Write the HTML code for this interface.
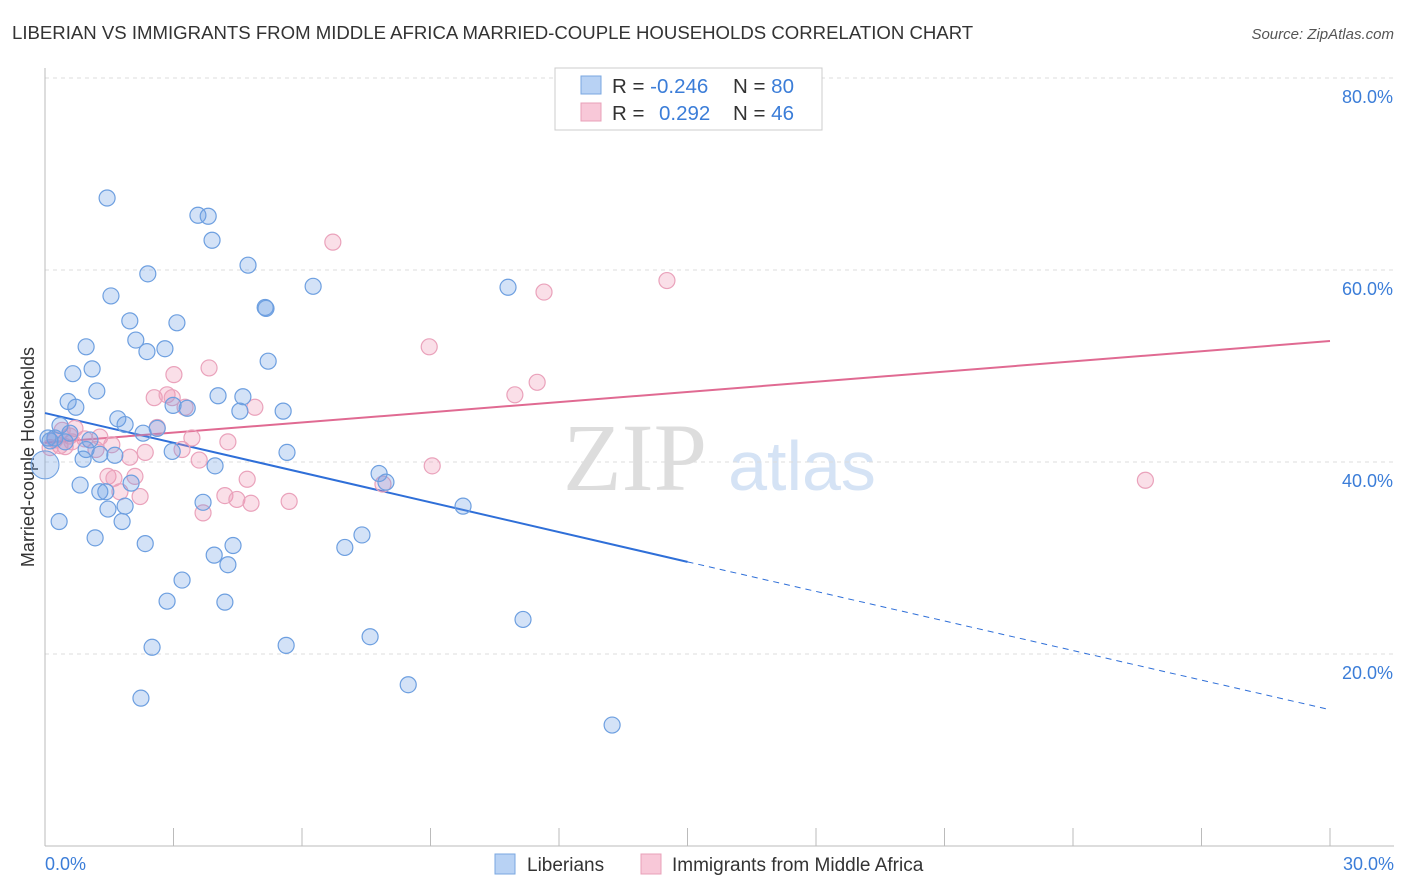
<!DOCTYPE html>
<html><head><meta charset="utf-8">
<style>
body{margin:0;background:#fff;font-family:"Liberation Sans",sans-serif;}
svg{display:block}
</style></head>
<body>
<svg id="chart" width="1406" height="892">
<text x="12" y="39" font-size="18.6" fill="#333">LIBERIAN VS IMMIGRANTS FROM MIDDLE AFRICA MARRIED-COUPLE HOUSEHOLDS CORRELATION CHART</text>
<text x="1394" y="39" font-size="15" fill="#555" font-style="italic" text-anchor="end">Source: ZipAtlas.com</text>
<text transform="translate(34,457) rotate(-90)" font-size="18" fill="#333" text-anchor="middle">Married-couple Households</text>
<g>
<text x="635" y="490" font-size="96" fill="#ddd" font-family="Liberation Serif,serif" text-anchor="middle">ZIP</text>
<text x="802" y="490" font-size="70" fill="#d5e3f5" text-anchor="middle">atlas</text>
</g>
<g id="grid"></g>
<g id="trends"></g>
<g id="points"></g>
<g>
<rect x="555" y="68" width="267" height="62" fill="#fff" stroke="#ccc"/>
<rect x="581" y="76" width="20" height="18" fill="#b8d2f4" stroke="#7aa7e0"/>
<rect x="581" y="103" width="20" height="18" fill="#f8c8d8" stroke="#e8a0b8"/>
<text x="612" y="93" font-size="20.5" fill="#333">R = <tspan fill="#3b7dd8">-0.246</tspan><tspan x="733">N = </tspan><tspan fill="#3b7dd8">80</tspan></text>
<text x="612" y="120" font-size="20.5" fill="#333">R = <tspan x="659" fill="#3b7dd8">0.292</tspan><tspan x="733">N = </tspan><tspan fill="#3b7dd8">46</tspan></text>
</g>
<g>
<rect x="495" y="854" width="20" height="20" fill="#b8d2f4" stroke="#7aa7e0"/>
<text x="527" y="871" font-size="19" fill="#333">Liberians</text>
<rect x="641" y="854" width="20" height="20" fill="#f8c8d8" stroke="#e8a0b8"/>
<text x="672" y="871" font-size="19" fill="#333">Immigrants from Middle Africa</text>
</g>
</svg>
<script>
const yTicks=[20,40,60,80];
const yTickLabels=["20.0%","40.0%","60.0%","80.0%"];
const xTickLabels=["0.0%","30.0%"];
const blueX=[1.45,3.57,3.81,3.90,4.74,2.40,6.26,10.81,5.14,5.16,1.54,1.98,3.08,2.12,0.96,2.38,2.80,5.21,0.65,1.10,1.21,4.04,4.62,0.54,0.72,2.99,3.32,4.55,5.56,1.70,1.87,0.35,0.58,0.23,1.05,0.12,0.47,2.29,2.62,0.96,1.28,1.63,2.97,5.65,0.89,3.97,7.80,7.96,0.82,2.01,1.28,1.42,3.69,9.76,1.47,1.87,0.33,1.80,7.40,1.17,4.39,2.34,7.00,3.95,4.27,3.20,2.85,4.20,2.50,5.63,7.59,11.16,8.48,2.24,13.24,0.07];
const blueY=[67.5,65.7,65.6,63.1,60.5,59.6,58.3,58.2,56.1,56.0,57.3,54.7,54.5,52.7,52.0,51.5,51.8,50.5,49.2,49.7,47.4,46.9,46.8,46.3,45.7,45.9,45.6,45.3,45.3,44.5,43.9,43.8,43.0,42.5,42.3,42.2,42.1,43.0,43.5,41.3,40.8,40.7,41.1,41.0,40.3,39.6,38.8,37.9,37.6,37.8,36.9,36.9,35.8,35.4,35.1,35.4,33.8,33.8,32.4,32.1,31.3,31.5,31.1,30.3,29.3,27.7,25.5,25.4,20.7,20.9,21.8,23.6,16.8,15.4,12.6,42.5];
const bigBlue=[0,39.7];
const pinkX=[6.72,14.52,11.65,8.97,3.83,3.01,11.49,10.97,2.55,2.85,2.97,3.27,4.90,2.62,3.43,4.27,0.58,1.28,0.47,0.93,0.23,0.35,2.34,3.20,1.98,3.60,9.04,1.47,1.61,2.10,4.72,7.89,1.75,2.22,4.20,4.48,4.81,5.70,3.69,25.69,0.70,1.19,0.12,0.63,1.56,0.40];
const pinkY=[62.9,58.9,57.7,52.0,49.8,49.1,48.3,47.0,46.7,47.0,46.7,45.7,45.7,43.6,42.5,42.1,42.7,42.6,41.6,42.4,42.3,41.7,41.0,41.3,40.5,40.2,39.6,38.5,38.3,38.5,38.2,37.7,36.9,36.4,36.5,36.1,35.7,35.9,34.7,38.1,43.5,41.3,41.5,42.1,41.8,43.3];
const blueTrend=[45.1,29.6,14.2];
const pinkTrend=[42.0,52.6];
const NS="http://www.w3.org/2000/svg";
const sx=v=>45+v/30*1285;
const sy=v=>846-v*9.6;
function mk(tag,attrs,parent){const e=document.createElementNS(NS,tag);for(const k in attrs)e.setAttribute(k,attrs[k]);parent.appendChild(e);return e;}
const grid=document.getElementById('grid');
yTicks.forEach((t,i)=>{
  const l=mk('line',{x1:45,x2:1394,y1:sy(t),y2:sy(t),stroke:'#ddd','stroke-dasharray':'4,4'},grid);
  
  
  const tx=mk('text',{x:1393,y:sy(t)+25,'font-size':18,fill:'#3b7dd8','text-anchor':'end'},grid);
  tx.textContent=yTickLabels[i];
  
  
});
const axisY=mk('line',{x1:45,x2:45,y1:68,y2:846,stroke:'#bbb'},grid);


const axisX=mk('line',{x1:45,x2:1394,y1:846,y2:846,stroke:'#bbb'},grid);


for(let i=0;i<=10;i++){const x=sx(i*3);const t=mk('line',{x1:x,x2:x,y1:828,y2:846,stroke:'#bbb'},grid);
  
  }
const xl0=mk('text',{x:45,y:870,'font-size':18,fill:'#3b7dd8'},grid);xl0.textContent=xTickLabels[0];


const xl1=mk('text',{x:1394,y:870,'font-size':18,fill:'#3b7dd8','text-anchor':'end'},grid);xl1.textContent=xTickLabels[1];


const pts=document.getElementById('points');
pinkX.forEach((x,i)=>{const c=mk('circle',{cx:sx(x),cy:sy(pinkY[i]),r:8,fill:'rgba(240,150,180,0.3)',stroke:'#eaa2bb','stroke-width':1.2},pts);
  
  });
blueX.forEach((x,i)=>{const c=mk('circle',{cx:sx(x),cy:sy(blueY[i]),r:8,fill:'rgba(110,160,230,0.3)',stroke:'#6d9fe0','stroke-width':1.2},pts);
  
  });
const bb=mk('circle',{cx:sx(bigBlue[0]),cy:sy(bigBlue[1]),r:14,fill:'rgba(110,160,230,0.3)',stroke:'#6d9fe0'},pts);


const tr=document.getElementById('trends');
const b1=mk('line',{x1:sx(0),y1:sy(blueTrend[0]),x2:sx(15),y2:sy(blueTrend[1]),stroke:'#2f6fd8','stroke-width':2},tr);


const b2=mk('line',{x1:sx(15),y1:sy(blueTrend[1]),x2:sx(30),y2:sy(blueTrend[2]),stroke:'#2f6fd8','stroke-width':1,'stroke-dasharray':'6,5'},tr);


const p1=mk('line',{x1:sx(0),y1:sy(pinkTrend[0]),x2:sx(30),y2:sy(pinkTrend[1]),stroke:'#e06a92','stroke-width':2},tr);


</script>
</body></html>
